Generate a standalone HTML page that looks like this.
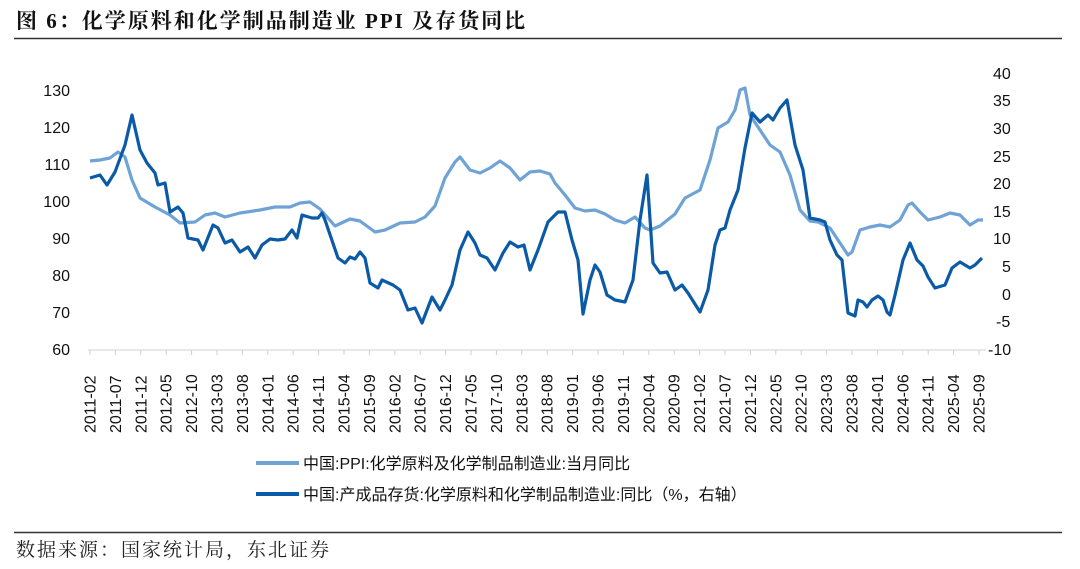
<!DOCTYPE html>
<html><head><meta charset="utf-8"><style>
body{margin:0;background:#fff;width:1080px;height:564px;overflow:hidden;font-family:"Liberation Sans","Noto Sans CJK SC",sans-serif}
</style></head><body>
<svg width="1080" height="564" xmlns="http://www.w3.org/2000/svg" font-family="Liberation Sans, Noto Sans CJK SC, sans-serif">
<text x="16" y="28" font-size="21" font-weight="bold" letter-spacing="2" font-family="Liberation Serif, Noto Serif CJK SC, serif" fill="#111">图 6：化学原料和化学制品制造业 PPI 及存货同比</text>
<line x1="14" y1="38.5" x2="1062" y2="38.5" stroke="#333" stroke-width="1.5"/>
<g font-size="16" fill="#111" text-anchor="end">
<text x="70" y="96">130</text><text x="70" y="133">120</text><text x="70" y="170">110</text><text x="70" y="207">100</text><text x="70" y="244">90</text><text x="70" y="281">80</text><text x="70" y="318">70</text><text x="70" y="355">60</text>
</g>
<g font-size="16" fill="#111">
<text x="993" y="79">40</text><text x="993" y="106">35</text><text x="993" y="134">30</text><text x="993" y="162">25</text><text x="993" y="189">20</text><text x="993" y="217">15</text><text x="993" y="244">10</text><text x="1002" y="272">5</text><text x="1002" y="300">0</text><text x="996" y="327">-5</text><text x="988" y="355">-10</text>
</g>
<line x1="88" y1="350" x2="986" y2="350" stroke="#d0d0d0" stroke-width="1"/>
<g id="ticks" stroke="#d0d0d0"></g>
<g id="xl" font-size="16" fill="#111"></g>
<polyline fill="none" stroke="#6fa3d6" stroke-width="3.2" stroke-linejoin="round" points="90,161 100,160 110,158 118,152 125,157 132,180 140,198 155,207 170,215 180,223 195,222 205,215 215,213 225,217 240,213 260,210 275,207 290,207 300,203 310,202 320,209 335,226 350,219 360,221 375,232 385,230 400,223 415,222 425,217 435,206 445,178 455,162 460,157 470,170 480,173 490,168 500,161 510,168 520,180 530,172 540,171 550,174 555,183 565,195 575,208 585,211 595,210 605,214 615,220 625,223 635,217 645,228 650,230 660,226 675,214 685,198 700,190 710,160 718,128 728,122 735,110 740,90 745,88 750,115 760,130 770,145 780,152 790,175 800,210 810,221 818,222 830,228 840,243 848,255 852,252 860,230 870,227 880,225 890,227 900,220 908,205 912,203 920,212 928,220 940,217 950,213 960,215 970,225 978,220 983,220"/>
<polyline fill="none" stroke="#0b5aa8" stroke-width="3.2" stroke-linejoin="round" points="90,178 100,175 107,185 115,172 125,145 132,115 140,150 147,163 155,173 158,185 165,183 170,212 178,207 183,213 188,238 198,240 203,250 213,225 218,228 225,243 232,240 240,252 248,247 255,258 262,245 270,239 278,240 285,239 292,230 297,238 302,215 312,218 318,218 322,213 325,220 338,258 345,263 350,257 355,259 360,252 365,258 370,283 378,288 382,280 393,285 400,290 408,310 415,308 422,323 432,297 440,310 445,300 452,285 460,250 468,232 475,243 480,255 487,258 495,270 503,253 510,242 518,247 524,245 530,270 538,250 548,222 558,212 565,212 572,240 578,260 583,314 590,280 595,265 600,272 607,295 615,300 625,302 633,280 640,220 647,175 653,263 660,273 667,272 675,290 682,285 688,293 700,312 708,290 715,245 720,230 725,228 730,210 738,190 745,148 752,113 760,122 768,115 773,120 780,108 787,100 790,117 795,145 803,170 810,218 820,220 825,222 830,240 837,255 842,260 848,313 855,316 858,300 863,302 867,307 872,300 878,296 883,300 887,312 890,315 895,295 903,260 910,243 917,260 923,266 928,277 935,288 945,285 952,268 960,262 970,268 975,265 982,258"/>
<line x1="256" y1="463" x2="299" y2="463" stroke="#6fa3d6" stroke-width="4"/>
<text x="303" y="469" font-size="16" fill="#111">中国:PPI:化学原料及化学制品制造业:当月同比</text>
<line x1="256" y1="494" x2="299" y2="494" stroke="#0b5aa8" stroke-width="4"/>
<text x="303" y="500" font-size="16" fill="#111">中国:产成品存货:化学原料和化学制品制造业:同比（%，右轴）</text>
<line x1="14" y1="532.5" x2="1062" y2="532.5" stroke="#333" stroke-width="1.5"/>
<text x="16" y="556" font-size="19" letter-spacing="2" fill="#222" font-family="Noto Serif CJK SC, serif">数据来源：国家统计局，东北证券</text>
</svg>
<script>
var labs=["2011-02","2011-07","2011-12","2012-05","2012-10","2013-03","2013-08","2014-01","2014-06","2014-11","2015-04","2015-09","2016-02","2016-07","2016-12","2017-05","2017-10","2018-03","2018-08","2019-01","2019-06","2019-11","2020-04","2020-09","2021-02","2021-07","2021-12","2022-05","2022-10","2023-03","2023-08","2024-01","2024-06","2024-11","2025-04","2025-09"];
var ns="http://www.w3.org/2000/svg",t=document.getElementById("ticks"),g=document.getElementById("xl");
labs.forEach(function(l,i){var x=90+i*5*5.08;
var ln=document.createElementNS(ns,"line");ln.setAttribute("x1",x);ln.setAttribute("x2",x);ln.setAttribute("y1",350);ln.setAttribute("y2",355);t.appendChild(ln);
var tx=document.createElementNS(ns,"text");tx.setAttribute("transform","translate("+(x+5.5)+",433) rotate(-90)");tx.textContent=l;g.appendChild(tx);});
</script>
</body></html>
